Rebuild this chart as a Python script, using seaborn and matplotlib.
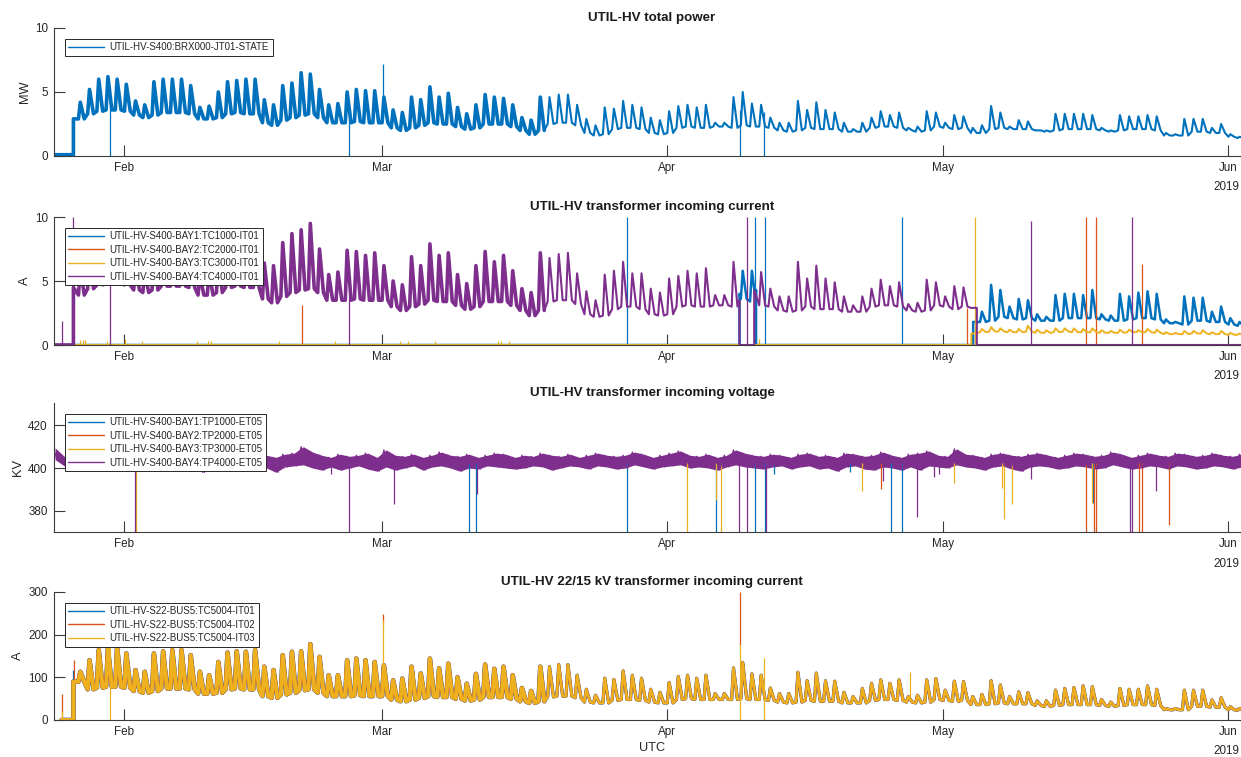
import numpy as np
import pandas as pd
import matplotlib
matplotlib.use("Agg")
import matplotlib.pyplot as plt
import matplotlib.dates as mdates
from matplotlib.lines import Line2D
import seaborn as sns

# ---------------------------------------------------------------- data
START = pd.Timestamp("2019-01-24")          # day 0
# daily low (night) and high (morning peak) values

# panel 1: total power, MW, days 3..130
POWER_LOW = [2.9, 3.3, 3.5, 3.6, 3.6, 3.5, 3.2, 3.0,
             3.2, 3.4, 3.4, 3.4, 3.3, 2.9, 2.9,
             3.0, 3.3, 3.4, 3.3, 3.3, 2.6, 2.4,
             2.8, 3.0, 3.2, 3.3, 3.0, 2.6, 2.6,
             2.6, 2.7, 2.6, 2.6, 2.6, 2.2, 2.0,
             2.2, 2.4, 2.6, 2.5, 2.5, 2.3, 2.1,
             2.2, 2.5, 2.5, 2.5, 2.3, 2.0, 1.7,
             2.0, 2.5, 2.6, 2.6, 2.4, 1.8, 1.6,
             1.7, 2.1, 2.2, 2.2, 2.1, 1.8, 1.7,
             1.8, 2.2, 2.3, 2.2, 2.2, 2.3, 2.3,
             2.2, 2.4, 2.3, 2.3, 2.2, 2.0, 1.9,
             2.0, 2.2, 2.1, 2.1, 2.1, 1.9, 1.9,
             1.9, 2.2, 2.3, 2.3, 2.2, 2.0, 1.9,
             2.0, 2.3, 2.2, 2.1, 2.2, 1.8, 1.8,
             2.1, 2.2, 2.1, 2.1, 2.1, 2.0, 1.9,
             2.0, 2.1, 2.1, 2.1, 2.1, 2.0, 1.9,
             2.0, 2.1, 2.1, 2.1, 2.0, 1.6, 1.6,
             1.6, 1.9, 1.9, 1.8, 1.8, 1.5, 1.4,
             1.4]
POWER_HIGH = [4.2, 5.2, 6.0, 6.2, 6.0, 5.6, 4.3, 4.0,
              5.8, 6.0, 6.0, 6.0, 5.5, 3.8, 3.9,
              5.0, 5.8, 5.9, 6.0, 6.0, 4.4, 4.0,
              5.5, 5.7, 6.5, 6.4, 5.2, 4.0, 4.1,
              5.0, 5.2, 5.1, 5.1, 4.6, 3.6, 3.4,
              4.6, 4.4, 5.4, 4.6, 4.9, 3.8, 3.3,
              4.0, 4.8, 4.6, 4.5, 4.0, 3.0, 2.8,
              4.6, 4.6, 4.8, 4.8, 4.0, 2.9, 2.4,
              3.8, 3.7, 4.3, 4.0, 3.8, 3.0, 2.8,
              3.5, 3.9, 4.0, 3.8, 4.0, 2.6, 2.6,
              4.6, 5.0, 4.1, 4.0, 3.0, 2.6, 2.6,
              4.3, 3.6, 4.2, 3.6, 3.4, 2.6, 2.1,
              2.6, 3.0, 3.5, 3.2, 3.4, 2.2, 2.3,
              3.5, 3.4, 2.6, 3.2, 3.1, 2.2, 2.4,
              3.9, 3.4, 2.3, 2.8, 2.7, 2.0, 2.0,
              3.3, 3.3, 3.3, 3.3, 3.2, 2.2, 2.0,
              3.2, 3.1, 3.1, 3.2, 3.1, 1.8, 1.7,
              2.9, 2.9, 2.9, 2.2, 2.5, 1.7, 1.5,
              1.5]
POWER_SPIKE_DAY = [6.48, 32.46, 36.2, 74.96, 77.6]
POWER_SPIKE_LO = [0.0, 0.0, 3.0, 0.0, 0.0]
POWER_SPIKE_HI = [4.8, 3.6, 7.2, 3.6, 3.4]

# panel 2: transformer incoming current, A
BAY4_I_LOW = [3.9, 4.4, 4.7, 4.8, 4.8, 4.7, 4.3, 4.1,          # days 3..100
              4.3, 4.6, 4.6, 4.6, 4.5, 3.9, 3.9,
              4.1, 4.5, 4.6, 4.5, 4.5, 3.6, 3.3,
              3.8, 4.1, 4.3, 4.4, 4.1, 3.5, 3.5,
              3.5, 3.6, 3.5, 3.5, 3.5, 3.0, 2.7,
              3.0, 3.2, 3.5, 3.4, 3.4, 3.1, 2.8,
              3.0, 3.4, 3.4, 3.4, 3.1, 2.7, 2.3,
              2.7, 3.4, 3.5, 3.5, 3.2, 2.4, 2.2,
              2.3, 2.8, 3.0, 3.0, 2.8, 2.4, 2.3,
              2.4, 3.0, 3.1, 3.0, 3.0, 3.1, 3.1,
              3.0, np.nan, np.nan, 3.1, 3.0, 2.7, 2.6,
              2.7, 3.0, 2.8, 2.8, 2.8, 2.6, 2.6,
              2.6, 3.0, 3.1, 3.1, 3.0, 2.7, 2.6,
              2.7, 3.1, 3.0, 2.8, 3.0, 2.9]
BAY4_I_HIGH = [6.1, 7.5, 8.7, 9.0, 8.7, 8.1, 6.2, 5.8,
               8.4, 8.7, 8.7, 8.7, 8.0, 5.5, 5.7,
               7.3, 8.4, 8.6, 8.7, 8.7, 6.4, 6.2,
               8.0, 8.7, 9.0, 9.5, 7.5, 5.5, 5.7,
               7.4, 7.3, 7.0, 7.2, 6.2, 5.0, 4.7,
               6.9, 6.2, 7.9, 7.0, 7.2, 5.5, 4.8,
               6.2, 7.3, 6.5, 7.0, 5.8, 4.4, 4.1,
               7.2, 6.8, 7.1, 7.2, 5.6, 4.2, 3.5,
               5.5, 5.8, 6.5, 5.6, 5.6, 4.4, 4.1,
               5.2, 5.4, 5.8, 5.6, 6.0, 3.9, 3.9,
               6.5, np.nan, np.nan, 5.7, 4.4, 3.8, 3.8,
               6.5, 5.2, 6.2, 5.2, 4.9, 3.8, 3.1,
               3.8, 4.4, 5.1, 4.6, 4.9, 3.2, 3.3,
               5.1, 4.9, 3.8, 4.6, 4.5, np.nan]
BAY1_I_APR_LOW = [3.6, 3.4]                    # days 75..76
BAY1_I_APR_HIGH = [5.8, 5.8]
BAY1_I_MAY_LOW = [1.8, 1.9, 2.2, 2.1, 2.0, 2.1, 1.9, 1.9, 1.9, 2.1,   # days 101..130
                  2.1, 2.1, 2.1, 2.0, 1.9, 1.9, 2.0, 2.1, 2.1, 2.0,
                  1.7, 1.7, 1.6, 1.9, 1.9, 1.8, 1.8, 1.6, 1.5, 1.5]
BAY1_I_MAY_HIGH = [2.6, 4.7, 4.3, 3.0, 3.6, 3.5, 2.4, 2.2, 3.9, 4.0,
                   4.0, 3.9, 4.3, 2.4, 2.3, 4.0, 3.8, 4.1, 4.2, 4.0,
                   2.0, 1.8, 3.8, 3.7, 3.7, 2.6, 3.0, 2.1, 1.8, 1.7]
BAY3_I_MAY_LOW = [1.0, 1.05, 1.05, 1.0, 1.0, 1.05, 0.95, 0.95, 1.0, 1.05,
                  1.0, 1.0, 1.0, 0.95, 0.95, 0.95, 1.0, 1.0, 1.0, 0.95,
                  0.85, 0.85, 0.85, 0.9, 0.9, 0.85, 0.85, 0.8, 0.8, 0.8]
BAY3_I_MAY_HIGH = [1.25, 1.4, 1.3, 1.2, 1.25, 1.5, 1.2, 1.15, 1.3, 1.3,
                   1.3, 1.25, 1.3, 1.15, 1.1, 1.2, 1.2, 1.15, 1.25, 1.2,
                   1.0, 0.95, 1.1, 1.1, 1.15, 1.0, 1.1, 0.95, 0.9, 0.9]
BAY1_I_SPIKE_DAY = [0.3, 62.7, 76.6, 77.7, 92.6]
BAY1_I_SPIKE_HI = [0.7, 10, 10, 10, 10]
BAY2_I_SPIKE_DAY = [0.25, 27.4, 99.6, 112.6, 113.65, 118.7]
BAY2_I_SPIKE_HI = [10, 3.1, 2.9, 10, 10, 6.3]
BAY3_I_SPIKE_DAY = [0.3, 3.2, 3.5, 3.8, 6.1, 8.1, 10.0, 15.9, 17.1, 17.5,
                    24.9, 30.9, 38.0, 38.9, 41.8, 48.7, 49.0, 49.8, 77.0, 100.5]
BAY3_I_SPIKE_HI = [1.5, 0.4, 0.4, 0.4, 0.3, 0.5, 0.3, 0.3, 0.3, 0.3,
                   0.3, 0.3, 0.3, 0.3, 0.3, 0.3, 0.3, 0.3, 0.5, 10]
BAY4_I_SPIKE_DAY = [1.3, 2.5, 6.48, 32.46, 75.7, 106.6, 117.6]
BAY4_I_SPIKE_HI = [1.9, 10, 5.0, 3.8, 10, 9.7, 10]

# panel 3: incoming voltage, kV, days 0..130 (upper / lower edge of the band)
VOLT_HIGH = [409.5, 405.5, 404.5, 405.5, 406.0, 404.5, 406.5, 405.0, 404.5, 406.0,
             405.5, 406.0, 407.0, 405.0, 404.5, 406.0, 405.5, 407.0, 406.0, 405.0,
             406.5, 407.0, 405.5, 406.0, 405.0, 406.5, 407.0, 410.0, 407.5, 406.0,
             405.0, 406.5, 405.5, 406.0, 407.0, 405.0, 408.5, 406.0, 405.5, 406.5,
             405.0, 406.0, 407.5, 406.0, 405.5, 406.5, 405.0, 406.0, 407.0, 406.5,
             405.0, 406.0, 405.5, 407.0, 406.0, 405.5, 406.5, 405.0, 406.0, 407.0,
             406.0, 405.5, 406.0, 407.5, 406.5, 405.0, 406.0, 407.0, 408.0, 406.0,
             405.5, 406.5, 405.0, 406.0, 408.5, 407.0, 406.0, 405.5, 406.5, 406.0,
             405.0, 406.5, 407.0, 405.5, 406.0, 405.0, 407.0, 406.5, 405.5, 406.0,
             407.5, 406.0, 405.0, 406.5, 407.0, 408.0, 406.0, 405.5, 409.0, 406.5,
             406.0, 405.0, 406.5, 407.0, 406.0, 405.5, 406.5, 407.0, 406.0, 405.0,
             406.0, 407.0, 406.5, 405.5, 406.0, 407.5, 406.5, 405.0, 406.0, 407.0,
             406.0, 405.5, 407.0, 406.5, 405.5, 406.0, 407.0, 406.0, 405.5, 406.5,
             407.5]
VOLT_LOW = [404.0, 401.0, 400.5, 399.5, 400.0, 398.5, 400.5, 399.0, 400.0, 398.5,
            400.0, 399.5, 401.0, 400.0, 399.0, 400.5, 398.0, 400.0, 400.5, 399.5,
            400.0, 401.0, 399.5, 400.0, 398.0, 400.5, 401.0, 401.5, 400.0, 399.0,
            400.5, 399.0, 400.0, 401.0, 399.5, 398.5, 400.5, 399.0, 400.0, 401.0,
            399.0, 400.5, 401.0, 400.0, 398.5, 400.0, 399.5, 401.0, 400.5, 400.0,
            399.5, 400.0, 401.0, 400.5, 399.0, 400.0, 401.0, 400.5, 399.5, 401.0,
            400.5, 399.5, 400.0, 401.5, 400.5, 399.5, 400.5, 401.0, 401.5, 400.0,
            400.5, 400.0, 399.0, 400.5, 401.5, 400.5, 400.0, 399.5, 400.5, 401.0,
            399.5, 400.5, 401.0, 399.5, 400.0, 398.5, 400.5, 401.0, 399.5, 399.0,
            400.5, 400.0, 399.0, 400.5, 399.0, 401.0, 400.5, 400.0, 401.5, 400.5,
            400.0, 399.0, 400.5, 401.0, 399.5, 398.5, 400.5, 401.0, 400.5, 399.5,
            400.0, 401.0, 400.5, 399.5, 400.0, 401.5, 400.5, 399.5, 400.0, 401.0,
            400.5, 399.5, 401.0, 400.5, 399.5, 400.0, 401.0, 400.5, 399.5, 400.5,
            401.0]
BAY1_V_DIP_DAY = [45.5, 46.3, 62.7, 72.3, 76.6, 77.7, 78.6, 86.9, 91.4, 92.6, 113.3]
BAY1_V_DIP_LO = [365, 365, 365, 365, 365, 365, 397, 398, 365, 365, 383.6]
BAY2_V_DIP_DAY = [0.27, 90.3, 112.6, 113.4, 113.6, 118.3, 118.7, 121.6]
BAY2_V_DIP_LO = [365, 390, 365, 365, 365, 365, 365, 373.4]
BAY3_V_DIP_DAY = [9.3, 69.2, 72.4, 72.9, 88.2, 98.2, 103.4, 103.6, 104.5, 113.2]
BAY3_V_DIP_LO = [365, 365, 385, 365, 389, 393, 390.6, 376, 383, 383.6]
BAY4_V_DIP_DAY = [9.2, 30.5, 32.5, 37.4, 46.4, 74.9, 75.7, 77.8, 90.5, 94.2,
                  96.0, 96.6, 106.6, 117.3, 117.6, 120.2]
BAY4_V_DIP_LO = [365, 397, 365, 383, 388, 365, 365, 365, 394, 377,
                 396, 397, 395, 365, 365, 389]

# panel 4: 22/15 kV transformer current, A, days 3..130 (IT01/IT02/IT03 overlap)
TC5004_LOW = [90, 72, 76, 78, 78, 76, 68, 64,
              68, 74, 74, 74, 72, 62, 62,
              64, 72, 74, 72, 72, 56, 52,
              60, 64, 70, 72, 64, 56, 56,
              56, 58, 56, 56, 56, 48, 44,
              48, 52, 56, 54, 54, 50, 46,
              48, 54, 54, 54, 50, 44, 40,
              44, 54, 56, 56, 52, 42, 40,
              40, 46, 48, 48, 46, 42, 40,
              40, 48, 50, 48, 48, 48, 48,
              48, 50, 48, 48, 46, 42, 40,
              42, 46, 44, 44, 44, 40, 40,
              40, 46, 48, 48, 46, 42, 40,
              42, 48, 46, 44, 46, 36, 36,
              38, 40, 38, 38, 38, 34, 32,
              34, 36, 36, 36, 36, 34, 32,
              34, 36, 36, 36, 34, 24, 24,
              24, 32, 32, 30, 30, 24, 23,
              23]
TC5004_HIGH = [113, 140, 164, 168, 171, 156, 117, 113,
               156, 161, 164, 164, 152, 113, 105,
               136, 158, 161, 160, 164, 125, 117,
               152, 160, 161, 178, 148, 105, 105,
               140, 144, 140, 136, 128, 93, 97,
               125, 109, 144, 121, 132, 100, 85,
               108, 130, 120, 125, 105, 75, 68,
               125, 125, 130, 130, 105, 72, 58,
               98, 95, 115, 105, 98, 72, 65,
               88, 102, 105, 98, 105, 62, 62,
               122, 135, 108, 105, 75, 62, 62,
               112, 92, 110, 92, 91, 65, 55,
               74, 86, 94, 86, 94, 55, 58,
               94, 97, 70, 91, 90, 55, 60,
               92, 82, 55, 66, 64, 45, 45,
               70, 74, 76, 80, 78, 48, 42,
               74, 72, 72, 80, 72, 27, 27,
               70, 70, 70, 47, 52, 31, 27,
               27]
IT01_SPIKE_DAY = [2.45]
IT01_SPIKE_LO = [0]
IT01_SPIKE_HI = [117]
IT02_SPIKE_DAY = [1.3, 2.55, 36.2, 74.96]
IT02_SPIKE_LO = [0, 90, 225, 175]
IT02_SPIKE_HI = [60, 140, 248, 300]
IT03_SPIKE_DAY = [1.25, 6.45, 36.2, 74.96, 77.6, 93.4]
IT03_SPIKE_LO = [0, 0, 60, 0, 0, 55]
IT03_SPIKE_HI = [20, 168, 235, 175, 145, 113]

TITLES = ["UTIL-HV total power", "UTIL-HV transformer incoming current",
          "UTIL-HV transformer incoming voltage",
          "UTIL-HV 22/15 kV transformer incoming current"]
YLABELS = ["MW", "A", "KV", "A"]
LEGENDS = [["UTIL-HV-S400:BRX000-JT01-STATE"],
           ["UTIL-HV-S400-BAY1:TC1000-IT01", "UTIL-HV-S400-BAY2:TC2000-IT01",
            "UTIL-HV-S400-BAY3:TC3000-IT01", "UTIL-HV-S400-BAY4:TC4000-IT01"],
           ["UTIL-HV-S400-BAY1:TP1000-ET05", "UTIL-HV-S400-BAY2:TP2000-ET05",
            "UTIL-HV-S400-BAY3:TP3000-ET05", "UTIL-HV-S400-BAY4:TP4000-ET05"],
           ["UTIL-HV-S22-BUS5:TC5004-IT01", "UTIL-HV-S22-BUS5:TC5004-IT02",
            "UTIL-HV-S22-BUS5:TC5004-IT03"]]

# ---------------------------------------------------------------- style
sns.set_theme(style="ticks")
plt.rcParams["font.family"] = ["Liberation Sans", "DejaVu Sans"]
C = ["#0072BD", "#D95319", "#EDB120", "#7E2F8E"]
AX_COL = "#3a3a3a"


def when(d):
    return START + pd.to_timedelta(np.asarray(d, float), unit="D")


def daily(first, low, high):
    """night low -> sharp morning peak -> back to the low level later in the day"""
    low = np.asarray(low, float)
    high = np.asarray(high, float)
    days = first + np.arange(len(low))
    t = np.column_stack([days + 0.05, days + 0.25, days + 0.68]).ravel()
    v = np.column_stack([low, high, low]).ravel()
    return t, v


def zigzag(first, a, b):
    a = np.asarray(a, float)
    b = np.asarray(b, float)
    days = first + np.arange(len(a))
    t = np.column_stack([days + 0.25, days + 0.75]).ravel()
    v = np.column_stack([a, b]).ravel()
    return t, v


def join(*parts):
    t = np.concatenate([np.asarray(p[0], float) for p in parts])
    v = np.concatenate([np.asarray(p[1], float) for p in parts])
    keep = ~np.isnan(v)
    t, v = t[keep], v[keep]
    o = np.argsort(t, kind="stable")
    return t[o], v[o]


def draw(ax, path, color, lw, lo=-1e9, hi=1e9):
    t = np.asarray(path[0], float)
    v = np.asarray(path[1], float)
    m = (t >= lo) & (t <= hi)
    df = pd.DataFrame({"time": when(t[m]), "value": v[m]})
    sns.lineplot(data=df, x="time", y="value", ax=ax, color=color,
                 linewidth=lw, estimator=None, sort=False, legend=False)


def spikes(ax, days, lo, hi, color, lw=0.9):
    ax.vlines(when(days), lo, hi, colors=color, linewidth=lw)


fig = plt.figure(figsize=(12.41, 7.57), dpi=100)
W, H = 1241.0, 757.0
left, right = 54, 1250
tops = [28, 217, 403, 592]
bots = [156, 345, 532, 720]
axes = []
for tp, bt in zip(tops, bots):
    axes.append(fig.add_axes([left / W, 1 - bt / H, (right - left) / W, (bt - tp) / H]))
ax1, ax2, ax3, ax4 = axes

SPLIT = 53.75   # noisy (thick) part ends around 18 March

# panel 1
p = join(([0.3, 2.5, 2.5], [0.1, 0.1, 2.9]), daily(3, POWER_LOW, POWER_HIGH))
draw(ax1, p, C[0], 2.6, hi=SPLIT)
draw(ax1, p, C[0], 1.5, lo=53.6)
spikes(ax1, POWER_SPIKE_DAY, POWER_SPIKE_LO, POWER_SPIKE_HI, C[0])

# panel 2
z = np.zeros
b1 = join(([0.3, 74.9, 74.9], [0, 0, 4.0]),
          daily(75, BAY1_I_APR_LOW, BAY1_I_APR_HIGH),
          ([76.7, 76.7, 100.3, 100.3], [4.3, 0, 0, 1.8]),
          daily(101, BAY1_I_MAY_LOW, BAY1_I_MAY_HIGH))
draw(ax2, b1, C[0], 1.8)
spikes(ax2, BAY1_I_SPIKE_DAY, z(len(BAY1_I_SPIKE_DAY)), BAY1_I_SPIKE_HI, C[0])
draw(ax2, ([0.3, 130.6], [0.0, 0.0]), C[1], 1.0)
spikes(ax2, BAY2_I_SPIKE_DAY, z(len(BAY2_I_SPIKE_DAY)), BAY2_I_SPIKE_HI, C[1])
b3 = join(([0.3, 100.1, 100.1, 100.5], [0, 0, 0.9, 0.9]),
          daily(101, BAY3_I_MAY_LOW, BAY3_I_MAY_HIGH))
draw(ax2, b3, C[2], 1.4)
spikes(ax2, BAY3_I_SPIKE_DAY, z(len(BAY3_I_SPIKE_DAY)), BAY3_I_SPIKE_HI, C[2])
b4 = join(([0.3, 2.5, 2.5], [0, 0, 4.5]), daily(3, BAY4_I_LOW, BAY4_I_HIGH),
          ([74.9, 74.9, 76.5, 76.5], [3.5, 0, 0, 4.3]),
          ([100.7, 100.7, 130.6], [2.9, 0, 0]))
draw(ax2, b4, C[3], 2.6, hi=SPLIT)
draw(ax2, b4, C[3], 1.5, lo=53.6)
spikes(ax2, BAY4_I_SPIKE_DAY, z(len(BAY4_I_SPIKE_DAY)), BAY4_I_SPIKE_HI, C[3])

# panel 3
BAND = 402.5
spikes(ax3, BAY1_V_DIP_DAY, BAY1_V_DIP_LO, BAND, C[0])
spikes(ax3, BAY2_V_DIP_DAY, BAY2_V_DIP_LO, BAND, C[1])
spikes(ax3, BAY3_V_DIP_DAY, BAY3_V_DIP_LO, BAND, C[2])
vd = np.arange(len(VOLT_HIGH)) + 0.5
ax3.fill_between(when(vd), VOLT_LOW, VOLT_HIGH, color=C[3], linewidth=0)
draw(ax3, zigzag(0, VOLT_HIGH, VOLT_LOW), C[3], 0.9)
spikes(ax3, BAY4_V_DIP_DAY, BAY4_V_DIP_LO, BAND, C[3])

# panel 4
it = join(([1.2, 2.5, 2.5], [0, 0, 90]), daily(3, TC5004_LOW, TC5004_HIGH))
for col, extra in ((C[0], 0.5), (C[1], 0.3)):
    draw(ax4, it, col, 2.8 + extra, hi=SPLIT)
    draw(ax4, it, col, 1.8 + extra, lo=53.6)
spikes(ax4, IT01_SPIKE_DAY, IT01_SPIKE_LO, IT01_SPIKE_HI, C[0])
spikes(ax4, IT02_SPIKE_DAY, IT02_SPIKE_LO, IT02_SPIKE_HI, C[1])
draw(ax4, it, C[2], 2.8, hi=SPLIT)
draw(ax4, it, C[2], 1.8, lo=53.6)
spikes(ax4, IT03_SPIKE_DAY, IT03_SPIKE_LO, IT03_SPIKE_HI, C[2])

# ---------------------------------------------------------------- axes cosmetics
ylims = [(0, 10), (0, 10), (370, 430.5), (0, 300)]
yticks = [[0, 5, 10], [0, 5, 10], [380, 400, 420], [0, 100, 200, 300]]
for i, ax in enumerate(axes):
    ax.set_xlim(when(0.39), when(130.39))
    ax.set_ylim(*ylims[i])
    ax.set_yticks(yticks[i])
    ax.xaxis.set_major_locator(mdates.MonthLocator())
    ax.xaxis.set_major_formatter(mdates.DateFormatter("%b"))
    ax.xaxis.set_minor_locator(matplotlib.ticker.NullLocator())
    for s in ("top", "right"):
        ax.spines[s].set_visible(False)
    for s in ("left", "bottom"):
        ax.spines[s].set_color(AX_COL)
        ax.spines[s].set_linewidth(0.8)
    ax.tick_params(direction="in", length=8, width=0.8, color=AX_COL,
                   labelsize=8.4, labelcolor="#262626", pad=4.5)
    ax.set_xlabel("")
    ax.set_ylabel(YLABELS[i], fontsize=9.2, color="#262626", labelpad=3)
    ax.set_title(TITLES[i], fontsize=9.6, fontweight="bold", pad=5, color="#1a1a1a")
    ax.set_facecolor("white")
    ax.text(0.9908, -0.245, "2019", transform=ax.transAxes, ha="right",
            va="center", fontsize=8.4, color="#262626")
    labels = LEGENDS[i]
    handles = [Line2D([], [], color=C[k], lw=1.0) for k in range(len(labels))]
    leg = ax.legend(handles, labels, loc="upper left",
                    bbox_to_anchor=(11 / 1196, 1 - 11 / 128), borderaxespad=0,
                    fontsize=7, frameon=True, fancybox=False, framealpha=1,
                    edgecolor="#262626", borderpad=0.35, labelspacing=0.35,
                    handlelength=3.7, handletextpad=0.55)
    leg.get_frame().set_linewidth(0.7)

ax4.set_xlabel("UTC", fontsize=9.2, color="#262626", labelpad=3)

fig.savefig("out.png", dpi=100, facecolor="white")
